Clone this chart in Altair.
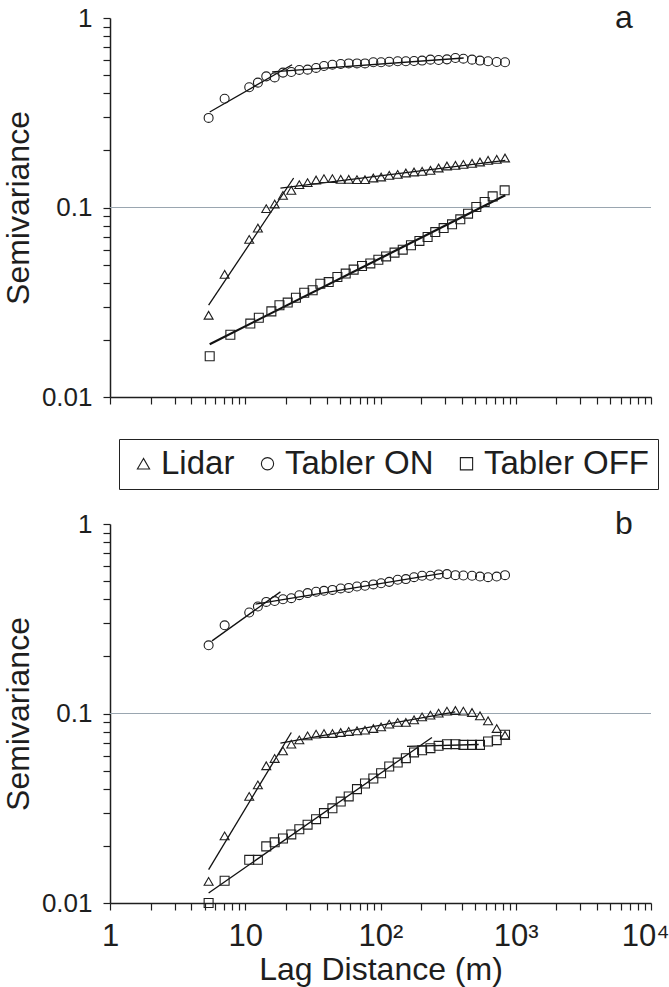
import altair as alt
import pandas as pd

# ---- lag distances (m) ----
lag = [5.36, 7.04, 10.7, 12.4, 14.3, 16.5, 19.0, 21.9, 25.1, 28.9, 33.4, 38.2,
       44.1, 50.8, 58.2, 67.0, 76.8, 88.5, 101, 116, 134, 154, 177, 203, 234,
       269, 310, 358, 410, 475, 544, 624, 723, 833]
lag_off_a = [5.46, 7.76, 10.9, 12.6, 15.6, 17.9, 20.6, 23.7, 27.3, 31.5, 35.9,
             41.4, 48.0, 55.3, 63.3, 73.0, 84.1, 96.4, 110, 127, 146, 168, 194,
             223, 254, 293, 338, 389, 444, 511, 589, 675, 828]

# ---- panel a semivariances ----
a_on = [0.297, 0.375, 0.431, 0.456, 0.492, 0.486, 0.515, 0.519, 0.532, 0.534,
        0.545, 0.558, 0.567, 0.572, 0.576, 0.576, 0.576, 0.584, 0.584, 0.588,
        0.591, 0.591, 0.593, 0.596, 0.603, 0.600, 0.605, 0.615, 0.610, 0.603,
        0.596, 0.591, 0.586, 0.584]
a_lidar = [0.0270, 0.0444, 0.0679, 0.0779, 0.0986, 0.1043, 0.1159, 0.1232,
           0.1320, 0.1352, 0.1397, 0.1420, 0.1420, 0.1408, 0.1408, 0.1403,
           0.1403, 0.1431, 0.1448, 0.1478, 0.1496, 0.1521, 0.1539, 0.1552,
           0.1571, 0.1616, 0.1656, 0.1669, 0.1689, 0.1710, 0.1738, 0.1774,
           0.1796, 0.1825]
a_off = [0.0164, 0.0213, 0.0244, 0.0262, 0.0283, 0.0305, 0.0315, 0.0334,
         0.0355, 0.0366, 0.0396, 0.0404, 0.0430, 0.0448, 0.0470, 0.0491,
         0.0507, 0.0530, 0.0552, 0.0578, 0.0599, 0.0632, 0.0666, 0.0699,
         0.0742, 0.0779, 0.0815, 0.0866, 0.0928, 0.1006, 0.1069, 0.1145,
         0.1232]

# ---- panel b semivariances ----
b_on = [0.229, 0.292, 0.341, 0.367, 0.388, 0.392, 0.401, 0.406, 0.421, 0.432,
        0.439, 0.444, 0.449, 0.457, 0.460, 0.468, 0.472, 0.480, 0.487, 0.495,
        0.508, 0.512, 0.524, 0.533, 0.533, 0.542, 0.544, 0.537, 0.535, 0.533,
        0.528, 0.524, 0.528, 0.537]
b_lidar = [0.0130, 0.0226, 0.0365, 0.0420, 0.0530, 0.0579, 0.0635, 0.0689,
           0.0726, 0.0762, 0.0778, 0.0784, 0.0784, 0.0794, 0.0804, 0.0810,
           0.0817, 0.0833, 0.0850, 0.0879, 0.0897, 0.0897, 0.0926, 0.0960,
           0.0980, 0.1004, 0.1029, 0.1037, 0.1029, 0.1012, 0.0972, 0.0915,
           0.0833, 0.0768]
b_off = [0.0100, 0.0131, 0.0169, 0.0169, 0.0199, 0.0209, 0.0219, 0.0230,
         0.0245, 0.0259, 0.0277, 0.0298, 0.0316, 0.0343, 0.0365, 0.0399,
         0.0427, 0.0454, 0.0484, 0.0525, 0.0551, 0.0581, 0.0623, 0.0640,
         0.0656, 0.0675, 0.0689, 0.0689, 0.0683, 0.0683, 0.0683, 0.0712,
         0.0723, 0.0772]

# ---- fitted power-law segments: (series, lag0, gamma0, lag1, gamma1, width) ----
fits_a = [
    ("Tabler ON", 5.46, 0.319, 22.2, 0.567, 1.3),
    ("Tabler ON", 15.8, 0.519, 412, 0.615, 1.3),
    ("Lidar", 5.36, 0.0305, 22.8, 0.1431, 1.3),
    ("Lidar", 18.2, 0.1267, 837, 0.1774, 1.3),
    ("Tabler OFF", 5.46, 0.0190, 837, 0.1159, 2.2),
]
fits_b = [
    ("Tabler ON", 5.68, 0.2417, 18.2, 0.4385, 1.3),
    ("Tabler ON", 11.9, 0.3776, 293, 0.550, 1.3),
    ("Lidar", 5.36, 0.0150, 21.9, 0.0794, 1.3),
    ("Lidar", 18.2, 0.0697, 357, 0.1020, 1.3),
    ("Tabler OFF", 5.36, 0.0113, 240, 0.0747, 1.3),
    ("Tabler OFF", 157, 0.0670, 532, 0.0686, 1.3),
]

SERIES = ["Lidar", "Tabler ON", "Tabler OFF"]
SHAPES = ["triangle-up", "circle", "square"]
FONT = "Liberation Sans"
INK = "#1e1e1e"

x_ticks = [m * 10 ** e for e in range(4) for m in range(1, 10)] + [10000]
y_ticks = [0.01, 0.02, 0.03, 0.04, 0.05, 0.06, 0.07, 0.08, 0.09,
           0.1, 0.2, 0.3, 0.4, 0.5, 0.6, 0.7, 0.8, 0.9, 1]

x_scale = alt.Scale(type="log", domain=[1, 10000], nice=False)
y_scale = alt.Scale(type="log", domain=[0.01, 1], nice=False)

x_label_expr = ("datum.value == 1 ? '1' : datum.value == 10 ? '10' : "
                "datum.value == 100 ? '10\u00b2' : datum.value == 1000 ? '10\u00b3' : "
                "datum.value == 10000 ? '10\u2074' : ''")
y_label_expr = ("datum.value == 1 ? '1' : datum.value == 0.1 ? '0.1' : "
                "datum.value == 0.01 ? '0.01' : ''")

# the last decade label hugs the right edge of the axis
last_align = {"condition": {"test": "datum.value == 10000", "value": "right"},
              "value": "center"}
last_offset = {"condition": {"test": "datum.value == 10000", "value": 18},
               "value": 0}


def points_table(pairs):
    rows = []
    for name, xs, ys in pairs:
        for xv, yv in zip(xs, ys):
            rows.append({"series": name, "lag": xv, "gamma": yv})
    return pd.DataFrame(rows)


def fits_table(fits):
    rows = []
    for i, (name, x0, y0, x1, y1, w) in enumerate(fits):
        rows.append({"seg": i, "series": name, "lag": x0, "gamma": y0, "w": w})
        rows.append({"seg": i, "series": name, "lag": x1, "gamma": y1, "w": w})
    return pd.DataFrame(rows)


def panel(tag, pts_df, fit_df, bottom):
    x_axis = alt.Axis(
        values=x_ticks, labels=bottom, labelExpr=x_label_expr,
        title="Lag Distance (m)" if bottom else "", grid=False,
        tickSize=7, labelFontSize=31, titleFontSize=32, labelPadding=11,
        titlePadding=3, labelFlush=False, labelOverlap=False,
        labelAlign=last_align, labelOffset=last_offset,
    )
    y_axis = alt.Axis(
        values=y_ticks, labelExpr=y_label_expr, title="Semivariance", grid=False,
        tickSize=7, labelFontSize=26, titleFontSize=32, labelPadding=11,
        titlePadding=6, labelOverlap=False,
    )
    x = alt.X("lag:Q", scale=x_scale, axis=x_axis)
    y = alt.Y("gamma:Q", scale=y_scale, axis=y_axis)

    if bottom:
        legend = None
    else:
        legend = alt.Legend(
            orient="none", legendX=9, legendY=421, direction="horizontal",
            title=None, labelFont=FONT, labelFontSize=33, labelColor=INK,
            labelLimit=400, symbolSize=150, symbolStrokeWidth=1.1,
            symbolStrokeColor=INK, symbolFillColor="transparent",
            strokeColor="#222", padding=8, columnPadding=16, labelOffset=1,
            cornerRadius=0,
        )

    rule = alt.Chart(pd.DataFrame({"gamma": [0.1]})).mark_rule(
        color="#9aa6b0", strokeWidth=1.2
    ).encode(y=alt.Y("gamma:Q", scale=y_scale))

    lines = alt.Chart(fit_df).mark_line(color="#111111").encode(
        x=x, y=y, detail="seg:N",
        strokeWidth=alt.StrokeWidth("w:Q", scale=None),
    )

    pts = alt.Chart(pts_df).mark_point(
        filled=False, size=80, strokeWidth=1.1, color=INK, opacity=1
    ).encode(
        x=x, y=y,
        shape=alt.Shape("series:N", scale=alt.Scale(domain=SERIES, range=SHAPES),
                        legend=legend),
    )

    label = alt.Chart(pd.DataFrame({"lag": [6300], "gamma": [1.0], "t": [tag]})).mark_text(
        font=FONT, fontSize=32, color=INK, baseline="middle", align="center"
    ).encode(x=alt.X("lag:Q", scale=x_scale), y=alt.Y("gamma:Q", scale=y_scale), text="t:N")

    return alt.layer(rule, lines, pts, label).properties(width=541, height=379)


top = panel(
    "a",
    points_table([("Lidar", lag, a_lidar), ("Tabler ON", lag, a_on),
                  ("Tabler OFF", lag_off_a, a_off)]),
    fits_table(fits_a), bottom=False,
)
bottom = panel(
    "b",
    points_table([("Lidar", lag, b_lidar), ("Tabler ON", lag, b_on),
                  ("Tabler OFF", lag, b_off)]),
    fits_table(fits_b), bottom=True,
)

chart = alt.vconcat(top, bottom, spacing=18).resolve_legend(
    shape="independent"
).properties(
    padding={"left": 2, "top": 2, "right": 0, "bottom": 2},
    background="white",
).configure_view(stroke=None).configure_axis(
    labelFont=FONT, titleFont=FONT, labelColor=INK, titleColor=INK,
    titleFontWeight="normal", domainColor=INK, tickColor=INK,
    domainWidth=1.5, tickWidth=1.2,
)

chart.save("out.html", embed_options={"renderer": "svg", "actions": False})
